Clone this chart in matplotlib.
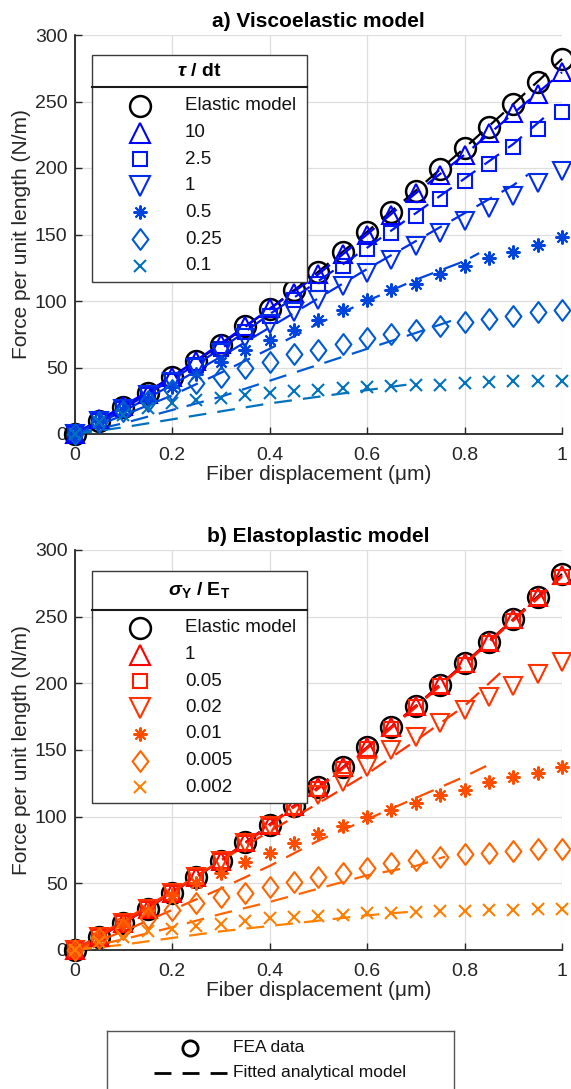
import numpy as np
import matplotlib
matplotlib.use("Agg")
import matplotlib.pyplot as plt
from matplotlib.path import Path
from matplotlib.patches import Rectangle
from matplotlib.lines import Line2D

plt.rcParams['font.family'] = ['Liberation Sans', 'DejaVu Sans']
plt.rcParams['mathtext.fontset'] = 'custom'
plt.rcParams['mathtext.rm'] = 'Liberation Sans'
plt.rcParams['mathtext.bf'] = 'Liberation Sans:bold'
plt.rcParams['mathtext.it'] = 'Liberation Sans:italic'
plt.rcParams['mathtext.bfit'] = 'Liberation Sans:bold:italic'

# ---------------- data ----------------
displacement = [0.0, 0.05, 0.1, 0.15, 0.2, 0.25, 0.3, 0.35, 0.4, 0.45, 0.5,
                0.55, 0.6, 0.65, 0.7, 0.75, 0.8, 0.85, 0.9, 0.95, 1.0]

elastic = [0, 10, 20, 31, 43, 55, 67, 81, 94, 108, 122, 137, 152, 167, 183, 199, 215, 231, 248, 265, 282]

# a) viscoelastic, tau/dt
visco_labels = ['10', '2.5', '1', '0.5', '0.25', '0.1']
visco_10 = [0, 11, 21, 30, 43, 55, 68, 81, 94.5, 106, 120, 135, 150, 165, 181, 195, 210, 226, 241, 256, 272]
visco_2_5 = [0, 10, 19, 29, 40, 52, 64, 77, 89, 101, 113, 126, 139, 151, 164, 177, 190, 203, 216, 229, 242]
visco_1 = [0, 10, 19, 29, 39, 50, 61, 72, 83, 92, 101, 111, 121, 131, 141, 151, 160, 170, 179, 189, 198]
visco_0_5 = [0, 10, 18, 26, 35, 45, 54, 63, 70.5, 78, 86, 93, 101, 108, 113, 120, 126.5, 132, 137, 142, 148]
visco_0_25 = [0, 9, 17, 25, 33, 38, 43, 50, 54, 60, 63, 68, 72, 75, 78, 81, 84, 86.5, 89, 91.5, 93]
visco_0_1 = [0, 9, 14, 19.5, 23, 25.5, 27, 29, 31, 32, 33, 34.5, 35, 36, 36.5, 37, 38, 39, 39.5, 40, 40]

# fitted analytical model (a)
fit_x_elastic = [0, 0.1, 0.2, 0.3, 0.4, 0.5, 0.6, 0.7, 0.8, 0.9, 1.0]
fit_elastic = [0, 20, 43, 67, 94, 122, 152, 183, 215, 248, 282]
fit_x_v10 = [0, 0.1, 0.2, 0.3, 0.4, 0.5, 0.6, 0.7, 0.8, 0.9, 1.0]
fit_v10 = [0, 21, 43, 68, 94, 120, 150, 181, 210, 241, 272]
fit_x_v2_5 = [0, 0.1, 0.2, 0.3, 0.4, 0.5, 0.6, 0.7, 0.8, 0.9, 0.97]
fit_v2_5 = [0, 19, 41, 64, 90, 115, 140, 166, 192, 218, 240]
fit_x_v1 = [0, 0.1, 0.2, 0.3, 0.4, 0.5, 0.6, 0.7, 0.8, 0.9, 0.93]
fit_v1 = [0, 17, 37, 58, 80, 102, 124, 145, 166, 187, 195]
fit_x_v0_5 = [0, 0.1, 0.2, 0.3, 0.4, 0.5, 0.6, 0.7, 0.8, 0.83]
fit_v0_5 = [0, 14, 29, 46, 64, 83, 100, 116, 130, 136]
fit_x_v0_25 = [0, 0.1, 0.2, 0.3, 0.4, 0.5, 0.6, 0.7, 0.78]
fit_v0_25 = [0, 8, 18, 28, 40, 52, 64, 76, 86]
fit_x_v0_1 = [0, 0.1, 0.2, 0.3, 0.4, 0.5, 0.6, 0.7]
fit_v0_1 = [0, 5, 11, 17, 23, 28, 33, 38]

# b) elastoplastic, sigma_Y/E_T
plast_labels = ['1', '0.05', '0.02', '0.01', '0.005', '0.002']
plast_1 = [0, 10, 20, 31, 43, 55, 67, 81, 94, 108, 122, 137, 152, 167, 183, 199, 215, 231, 248, 265, 281]
plast_0_05 = [0, 10, 20, 31, 43, 55, 67, 80, 93, 107, 121, 136, 151, 166, 182, 198, 214, 230, 247, 264, 280]
plast_0_02 = [0, 10, 20, 31, 43, 55, 67, 80, 93, 106, 116, 126, 137, 150, 160, 170, 180, 190, 198, 207, 216]
plast_0_01 = [0, 10, 20, 30, 41.5, 50, 58, 66, 73, 80.5, 87, 93, 100, 105, 110, 116, 120, 126, 129.5, 133, 137]
plast_0_005 = [0, 9, 16, 24, 30, 35, 40, 43, 47, 51, 55, 58, 61.5, 65, 67.5, 70, 72, 73, 74, 75.5, 76]
plast_0_002 = [0, 6, 10, 14, 15.5, 18, 19.5, 21.5, 24, 25, 25.5, 26.5, 27.5, 28, 28.5, 29, 29.5, 29.7, 30, 30.5, 31]

fit_x_p1 = [0, 0.1, 0.2, 0.3, 0.4, 0.5, 0.6, 0.7, 0.8, 0.9, 1.0]
fit_p1 = [0, 20, 43, 67, 94, 122, 152, 183, 215, 248, 281]
fit_x_p0_05 = [0, 0.1, 0.2, 0.3, 0.4, 0.5, 0.6, 0.7, 0.8, 0.9, 1.0]
fit_p0_05 = [0, 20, 43, 67, 93, 121, 151, 182, 214, 247, 280]
fit_x_p0_02 = [0, 0.1, 0.2, 0.3, 0.4, 0.5, 0.6, 0.7, 0.8, 0.88]
fit_p0_02 = [0, 22, 44, 67, 89, 110, 132, 157, 183, 210]
fit_x_p0_01 = [0, 0.1, 0.2, 0.3, 0.4, 0.5, 0.6, 0.7, 0.8, 0.85]
fit_p0_01 = [0, 14, 30, 46, 63, 82, 98, 114, 130, 139]
fit_x_p0_005 = [0, 0.1, 0.2, 0.3, 0.4, 0.5, 0.6, 0.7, 0.76]
fit_p0_005 = [0, 8, 17, 27, 36, 46, 56, 63, 70]
fit_x_p0_002 = [0, 0.1, 0.2, 0.3, 0.4, 0.5, 0.6, 0.7]
fit_p0_002 = [0, 4, 9, 14, 18, 22, 26, 29]

# ---------------- styles ----------------
visco_colors = ['#0000FF', '#0016F4', '#002DE9', '#0044DE', '#005BD3', '#0072BD']
plast_colors = ['#FF0000', '#FF1A00', '#FF3300', '#FF4D00', '#FF6600', '#FF8000']

diamond = Path([(0, 1), (0.76, 0), (0, -1), (-0.76, 0), (0, 1)],
               [Path.MOVETO, Path.LINETO, Path.LINETO, Path.LINETO, Path.CLOSEPOLY])
series_markers = ['^', 's', 'v', (8, 2, 0), diamond, 'x']
series_msize = [13, 9.5, 13, 10, 15, 8.5]
legend_msize = [14, 10, 14, 10, 15, 9]

AXC = '#262626'
W, H = 571, 1089
fig = plt.figure(figsize=(W / 100, H / 100), dpi=100)

left = 74.5 / W
width = (562 - 74.5) / W
ax_a = fig.add_axes([left, 1 - 434 / H, width, 399 / H])
ax_b = fig.add_axes([left, 1 - 950 / H, width, 400 / H])

DASH = (0, (8, 5))


def setup(ax, title):
    ax.set_xlim(0, 1)
    ax.set_ylim(0, 300)
    ax.set_xticks([0, 0.2, 0.4, 0.6, 0.8, 1.0])
    ax.set_xticklabels(['0', '0.2', '0.4', '0.6', '0.8', '1'])
    ax.set_yticks([0, 50, 100, 150, 200, 250, 300])
    ax.grid(True, color='#DEDEDE', lw=0.9)
    ax.set_axisbelow(True)
    for s in ['top', 'right']:
        ax.spines[s].set_visible(False)
    for s in ['left', 'bottom']:
        ax.spines[s].set_color(AXC)
        ax.spines[s].set_linewidth(1.3)
    ax.tick_params(direction='in', length=5, width=1.0, colors=AXC, labelsize=14)
    ax.tick_params(axis='x', pad=9)
    ax.tick_params(axis='y', pad=5)
    ax.set_xlabel('Fiber displacement (μm)', fontsize=15, color=AXC, labelpad=1)
    ax.set_ylabel('Force per unit length (N/m)', fontsize=15, color=AXC, labelpad=3)
    ax.set_title(title, fontsize=15, fontweight='bold', pad=6)


def draw_panel(ax, series, fits, colors):
    ax.plot(fit_x_elastic, fit_elastic, color='black', lw=1.6, linestyle=DASH, zorder=3, clip_on=False)
    ax.plot(displacement, elastic, linestyle='none', marker='o', ms=15, mfc='none',
            mec='black', mew=1.8, zorder=4, clip_on=False)
    for i, (ys, (fx, fy), c) in enumerate(zip(series, fits, colors)):
        ax.plot(fx, fy, color=c, lw=1.6, linestyle=DASH, zorder=5, clip_on=False)
        ax.plot(displacement, ys, linestyle='none', marker=series_markers[i], ms=series_msize[i],
                mfc='none', mec=c, mew=1.5, zorder=6, clip_on=False)


def draw_legend(ax, title, labels, colors, ytop, ybottom, ysep, ytitle, rows):
    # coordinates in pixels -> axes fraction
    def yf(Y):
        return (ybottom - Y) / 400.0 if ax is ax_b else (434 - Y) / 399.0

    def xf(X):
        return (X - 74.5) / 487.5
    rect = Rectangle((xf(92), yf(ytop[1])), xf(307) - xf(92), yf(ytop[0]) - yf(ytop[1]),
                     transform=ax.transAxes, facecolor='white', edgecolor='#3a3a3a',
                     lw=1.0, zorder=10)
    ax.add_patch(rect)
    ax.add_line(Line2D([xf(92), xf(307)], [yf(ysep), yf(ysep)], transform=ax.transAxes,
                       color='#1a1a1a', lw=1.5, zorder=11))
    ax.text(xf(199.5), yf(ytitle), title, transform=ax.transAxes, ha='center', va='center',
            fontsize=14, fontweight='bold', zorder=12)
    all_labels = ['Elastic model'] + labels
    markers = ['o'] + series_markers
    msz = [15] + legend_msize
    cols = ['black'] + colors
    for i, lab in enumerate(all_labels):
        Y = rows[0] + rows[1] * i
        ax.plot([xf(140)], [yf(Y)], transform=ax.transAxes, linestyle='none', marker=markers[i],
                ms=msz[i], mfc='none', mec=cols[i], mew=1.8 if i == 0 else 1.5, zorder=12,
                clip_on=False)
        ax.text(xf(185), yf(Y), lab, transform=ax.transAxes, ha='left', va='center',
                fontsize=13.5, color='#111111', zorder=12)


setup(ax_a, 'a) Viscoelastic model')
setup(ax_b, 'b) Elastoplastic model')

draw_panel(ax_a, [visco_10, visco_2_5, visco_1, visco_0_5, visco_0_25, visco_0_1],
           [(fit_x_v10, fit_v10), (fit_x_v2_5, fit_v2_5), (fit_x_v1, fit_v1),
            (fit_x_v0_5, fit_v0_5), (fit_x_v0_25, fit_v0_25), (fit_x_v0_1, fit_v0_1)],
           visco_colors)
draw_panel(ax_b, [plast_1, plast_0_05, plast_0_02, plast_0_01, plast_0_005, plast_0_002],
           [(fit_x_p1, fit_p1), (fit_x_p0_05, fit_p0_05), (fit_x_p0_02, fit_p0_02),
            (fit_x_p0_01, fit_p0_01), (fit_x_p0_005, fit_p0_005), (fit_x_p0_002, fit_p0_002)],
           plast_colors)

draw_legend(ax_a, r'$\boldsymbol{\tau}$ / dt', visco_labels, visco_colors,
            (55, 282), 434, 87, 72, (106, 26.6))
draw_legend(ax_b, r'$\boldsymbol{\sigma}_{\mathbf{Y}}$ / E$_{\mathbf{T}}$', plast_labels, plast_colors,
            (571, 803), 950, 610, 590, (628, 26.5))

# bottom shared legend (box cut by the figure edge)
lax = fig.add_axes([107 / W, -20 / H, (454 - 107) / W, (1089 + 20 - 1031) / H])
lax.set_xlim(107, 454)
lax.set_ylim(1089 + 20, 1031)
lax.set_xticks([])
lax.set_yticks([])
for s in lax.spines.values():
    s.set_color('#555555')
    s.set_linewidth(1.0)
lax.plot([190], [1048], marker='o', ms=11, mfc='none', mec='black', mew=2.0, linestyle='none')
lax.plot([154, 227], [1073, 1073], color='black', lw=2.0, linestyle=(0, (6.1, 4.0)))
lax.text(233, 1048, 'FEA data', ha='left', va='center', fontsize=12.5, color='#111111')
lax.text(233, 1073, 'Fitted analytical model', ha='left', va='center', fontsize=12.5, color='#111111')

fig.savefig('out.png', dpi=100)
